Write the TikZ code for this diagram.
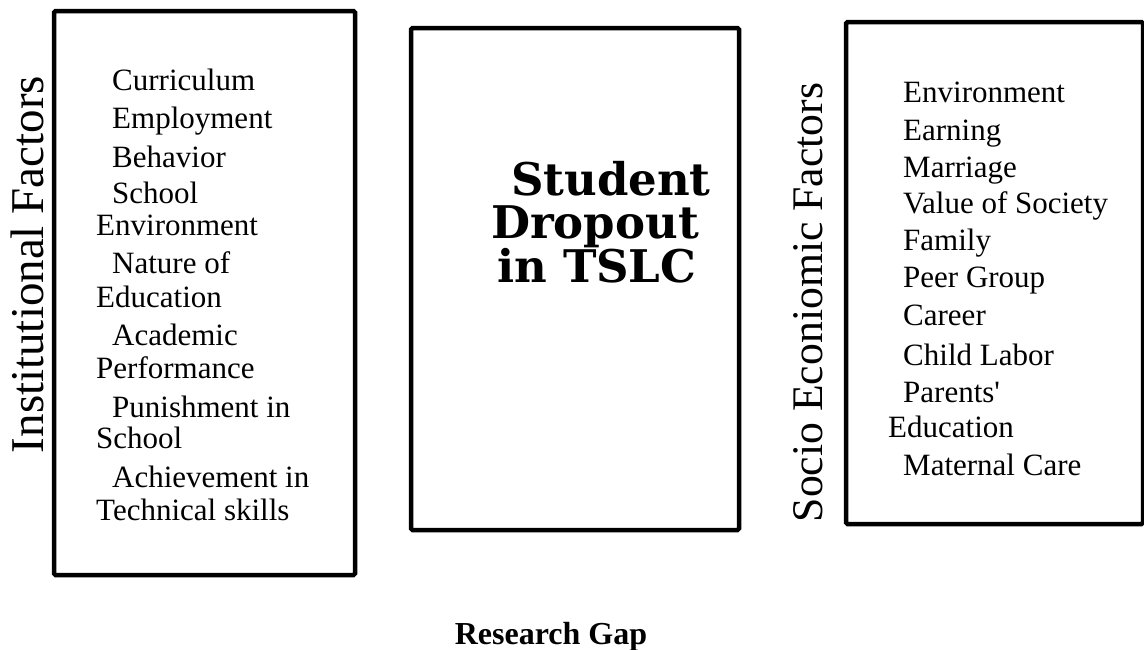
\documentclass[tikz,border=0pt]{standalone}
\usepackage{fontspec}
\setmainfont{Liberation Serif}
\newfontfamily\titlefont{DejaVu Serif}
\begin{document}
\begin{tikzpicture}[x=1pt,y=-1pt,
  factorbox/.style={draw=black, line width=4.5pt, rounded corners=1.5pt,
    inner sep=0pt, outer sep=0pt},
  item/.style={anchor=base west, inner sep=0pt, font=\fontsize{31}{36}\selectfont},
  sidelabel/.style={anchor=base, rotate=90, inner sep=0pt},
  titleline/.style={anchor=base, inner sep=0pt,
    font=\titlefont\bfseries\fontsize{45}{45}\selectfont},
]
\useasboundingbox (0,0) rectangle (1144,649);

% the three boxes
\node[factorbox, minimum width=301pt, minimum height=564pt] (inst) at (204.5,293) {};
\node[factorbox, minimum width=328pt, minimum height=502pt] (core) at (575,279) {};
\node[factorbox, minimum width=297pt, minimum height=502pt] (socio) at (994.5,273) {};

% side labels
\node[sidelabel, font=\fontsize{47}{47}\selectfont] (instlabel) at (43,264.5) {Institutional Factors};
\node[sidelabel, font=\fontsize{43.7}{43.7}\selectfont] (sociolabel) at (822,302.5) {Socio Econiomic Factors};

% institutional factors
\foreach \y/\x/\t [count=\i] in {
  90/112/Curriculum, 128/112/Employment, 167/112/Behavior, 203/112/School,
  235/96/Environment, 273/112/Nature of, 307/96/Education, 345/112/Academic,
  378/96/Performance, 417/112/Punishment in, 448/96/School,
  487/112/Achievement in, 520/96/Technical skills}
  \node[item] (inst-\i) at (\x,\y) {\t};

% socio economic factors
\foreach \y/\x/\t [count=\i] in {
  102/903/Environment, 140/903/Earning, 177/903/Marriage,
  213/903/Value of Society, 250/903/Family, 287/903/Peer Group,
  325/903/Career, 365/903/Child Labor, 402/903/Parents\textquotesingle,
  437/888/Education, 475/903/Maternal Care}
  \node[item] (socio-\i) at (\x,\y) {\t};

% central title
\node[titleline] (title-1) at (611,195) {Student};
\node[titleline] (title-2) at (595,238) {Dropout};
\node[titleline] (title-3) at (597,282) {in TSLC};

% caption
\node[anchor=base, inner sep=0pt, font=\bfseries\fontsize{32}{32}\selectfont] (gap) at (551,644) {Research Gap};
\end{tikzpicture}
\end{document}
